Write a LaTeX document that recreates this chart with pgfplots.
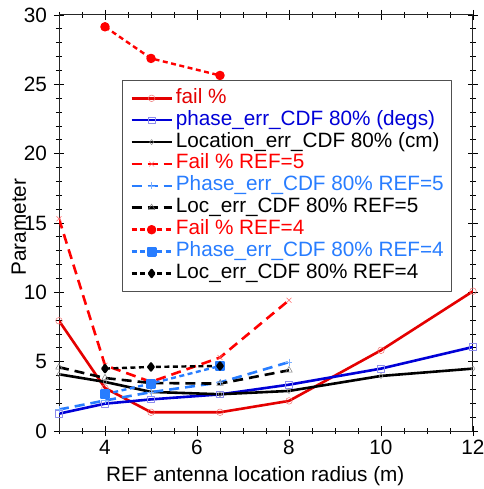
\documentclass[border=0pt]{standalone}
\usepackage{pgfplots}
\pgfplotsset{compat=1.18}
\usepackage{fontspec}
\setmainfont{Liberation Sans}
\usetikzlibrary{plotmarks}

\definecolor{cRed}{RGB}{228,0,0}
\definecolor{cRedB}{RGB}{255,0,0}
\definecolor{cBlue}{RGB}{0,0,215}
\definecolor{cLBlue}{RGB}{40,125,255}
\definecolor{cLeg}{RGB}{80,80,80}

\begin{document}
\begin{tikzpicture}
\useasboundingbox (0,0) rectangle (484bp,489bp);
\begin{axis}[
  at={(59bp,58bp)}, anchor=south west,
  scale only axis, width=414bp, height=416bp,
  xmin=3, xmax=12, ymin=0, ymax=30,
  xtick={4,6,8,10,12},
  minor xtick={3,3.5,...,12},
  ytick={0,5,...,30},
  minor ytick={0,1,...,30},
  tick align=center,
  major tick length=10bp,
  minor tick length=6bp,
  every tick/.style={black, line width=0.8bp},
  axis line style={line width=1bp, black!85},
  font=\fontsize{20.8}{24}\selectfont,
  /pgf/number format/assume math mode=true,
  xticklabel style={anchor=base, inner sep=0pt, yshift=-18.6bp},
  yticklabel style={anchor=east, inner sep=0pt, xshift=-7bp},
  xlabel={REF antenna location radius (m)},
  ylabel={Parameter},
  every axis x label/.style={at={(rel axis cs:0.474,0)}, anchor=base, yshift=-50bp},
  every axis y label/.style={at={(rel axis cs:0,0.49)}, xshift=-33bp, rotate=90, anchor=base},
  legend image code/.code={
    \draw[mark repeat=2, mark phase=2] plot coordinates {(0bp,0bp) (20bp,0bp) (40bp,0bp)};},
  legend style={
    at={(rel axis cs:0.152,0.844)}, anchor=north west,
    draw=cLeg, line width=0.8bp, inner sep=8bp,
    row sep=1.9bp, column sep=3bp,
    nodes={inner sep=0pt, text height=15bp, text depth=5bp, anchor=west},
    font=\fontsize{20.8}{24}\selectfont,
    cells={anchor=west},
  },
  line join=round,
]

% REF = 3 runs
\addplot[cRed, line width=2.6bp, mark=o, mark size=3.3bp,
  mark options={solid, line width=0.5bp, draw=cRed!55}]
  coordinates {(3,7.95) (4,3.1) (5,1.35) (6.5,1.35) (8,2.17) (10,5.82) (12,10.08)};
\addlegendentry{\textcolor{cRed}{fail \%}}

\addplot[cBlue, line width=2.6bp, mark=square, mark size=3.3bp,
  mark options={solid, line width=0.5bp, draw=cBlue!45}]
  coordinates {(3,1.25) (4,1.97) (5,2.28) (6.5,2.64) (8,3.34) (10,4.5) (12,6.06)};
\addlegendentry{\textcolor{cBlue}{phase\_err\_CDF 80\% (degs)}}

\addplot[black, line width=2.6bp, mark=diamond, mark size=2.6bp,
  mark options={solid, line width=0.5bp, draw=black!45}]
  coordinates {(3,4.09) (4,3.54) (5,2.82) (6.5,2.65) (8,2.89) (10,3.97) (12,4.5)};
\addlegendentry{Location\_err\_CDF 80\% (cm)}

% REF = 5 runs
\addplot[cRedB, line width=2.6bp, dash pattern=on 10bp off 6bp, mark=x, mark size=3.5bp,
  mark options={solid, line width=0.5bp, draw=cRedB!60}]
  coordinates {(3,15.3) (4,4.74) (5,3.54) (6.5,5.3) (8,9.43)};
\addlegendentry{\textcolor{cRedB}{Fail \% REF=5}}

\addplot[cLBlue, line width=2.6bp, dash pattern=on 10bp off 6bp, mark=+, mark size=3.5bp,
  mark options={solid, line width=0.5bp, draw=cLBlue!60}]
  coordinates {(3,1.55) (4,2.2) (5,2.8) (6.5,3.5) (8,4.97)};
\addlegendentry{\textcolor{cLBlue}{Phase\_err\_CDF 80\% REF=5}}

\addplot[black, line width=2.6bp, dash pattern=on 10bp off 6bp, mark=triangle, mark size=3.8bp,
  mark options={solid, line width=0.5bp, draw=black!50}]
  coordinates {(3,4.6) (4,3.82) (5,3.46) (6.5,3.42) (8,4.38)};
\addlegendentry{Loc\_err\_CDF 80\% REF=5}

% REF = 4 runs
\addplot[cRedB, line width=2.4bp, dash pattern=on 5bp off 3.5bp, mark=*, mark size=3.5bp,
  mark options={solid, fill=cRedB}]
  coordinates {(4,29.15) (5,26.87) (6.5,25.64)};
\addlegendentry{\textcolor{cRedB}{Fail \% REF=4}}

\addplot[cLBlue, line width=2.4bp, dash pattern=on 5bp off 3.5bp, mark=square*, mark size=3.8bp,
  mark options={solid, fill=cLBlue}]
  coordinates {(4,2.65) (5,3.42) (6.5,4.69)};
\addlegendentry{\textcolor{cLBlue}{Phase\_err\_CDF 80\% REF=4}}

\addplot[black, line width=2.4bp, dash pattern=on 5bp off 3.5bp, mark=diamond*, mark size=3.5bp,
  mark options={solid, fill=black}]
  coordinates {(4,4.5) (5,4.62) (6.5,4.69)};
\addlegendentry{Loc\_err\_CDF 80\% REF=4}

\end{axis}
\end{tikzpicture}
\end{document}
